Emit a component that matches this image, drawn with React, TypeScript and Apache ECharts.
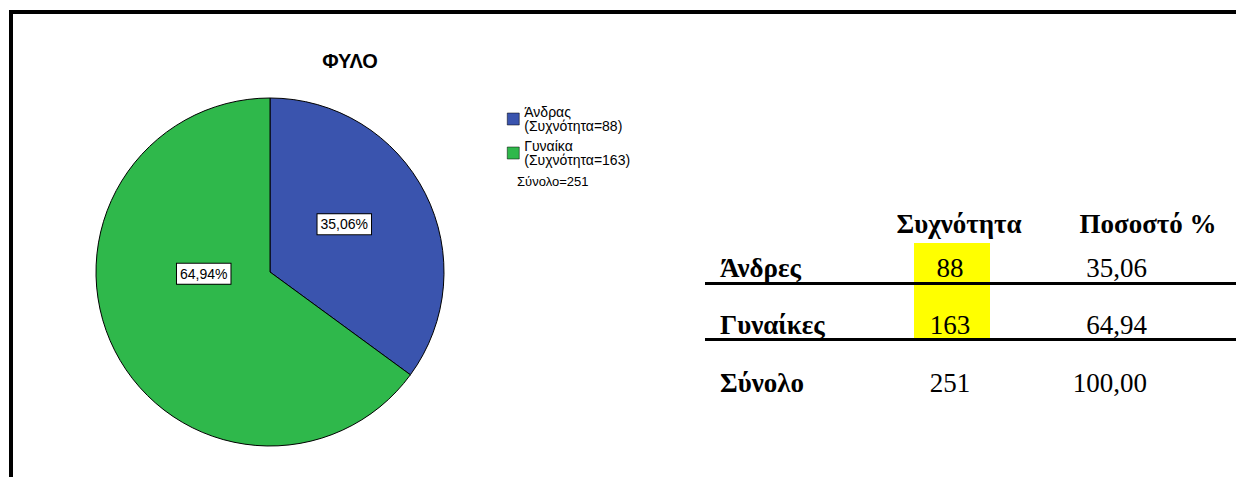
import React, { useEffect, useRef } from "react";
import * as echarts from "echarts";

const title = "ΦΥΛΟ";
const categories = ["Άνδρας", "Γυναίκα"];
const counts = [88, 163];
const colors = ["#3a54ae", "#2fb84b"];
const tableRows = ["Άνδρες", "Γυναίκες", "Σύνολο"];
const tableHeaders = ["Συχνότητα", "Ποσοστό %"];

const total = counts.reduce((a, b) => a + b, 0);
const pct = (v: number) => ((v / total) * 100).toFixed(2).replace(".", ",");

export default function App() {
  const ref = useRef<HTMLDivElement>(null);
  useEffect(() => {
    document.body.style.margin = "0";
    const chart = echarts.init(ref.current!, null, { renderer: "svg" });
    const serif = "'Liberation Serif', 'Times New Roman', serif";
    const sans = "'Liberation Sans', Arial, sans-serif";
    const rowY = [268, 325, 383];
    const freqX = 950;
    const pctRight = 1147;
    const tableValues = [...counts, total];
    const tablePcts = [...counts.map(pct), "100,00"];
    const graphics: any[] = [
      { type: "rect", shape: { x: 9, y: 10, width: 1227, height: 4 }, style: { fill: "#000" } },
      { type: "rect", shape: { x: 9, y: 10, width: 4, height: 467 }, style: { fill: "#000" } },
      { type: "rect", shape: { x: 914, y: 243, width: 76, height: 97 }, style: { fill: "#ffff00" }, z: 0 },
      { type: "rect", shape: { x: 705, y: 282, width: 531, height: 3 }, style: { fill: "#000" } },
      { type: "rect", shape: { x: 705, y: 338, width: 531, height: 3 }, style: { fill: "#000" } },
      {
        type: "text", x: 959, y: 224,
        style: { text: tableHeaders[0], font: `bold 27px ${serif}`, fill: "#000", align: "center", verticalAlign: "middle" },
      },
      {
        type: "text", x: 1148, y: 224,
        style: { text: tableHeaders[1], font: `bold 27px ${serif}`, fill: "#000", align: "center", verticalAlign: "middle" },
      },
      {
        type: "text", x: 517, y: 181,
        style: { text: `Σύνολο=${total}`, font: `13px ${sans}`, fill: "#000", align: "left", verticalAlign: "middle" },
      },
    ];
    tableRows.forEach((r, i) => {
      graphics.push({
        type: "text", x: 720, y: rowY[i], z: 5,
        style: { text: r, font: `bold 27px ${serif}`, fill: "#000", align: "left", verticalAlign: "middle" },
      });
      graphics.push({
        type: "text", x: freqX, y: rowY[i], z: 5,
        style: { text: String(tableValues[i]), font: `27px ${serif}`, fill: "#000", align: "center", verticalAlign: "middle" },
      });
      graphics.push({
        type: "text", x: pctRight, y: rowY[i], z: 5,
        style: { text: tablePcts[i], font: `27px ${serif}`, fill: "#000", align: "right", verticalAlign: "middle" },
      });
    });

    chart.setOption({
      animation: false,
      backgroundColor: "#fff",
      title: {
        text: title,
        left: 345,
        top: 46,
        textAlign: "center",
        textStyle: { fontFamily: sans, fontSize: 20, fontWeight: "bold", color: "#000" },
      },
      legend: {
        orient: "vertical",
        left: 502,
        top: 100,
        icon: "rect",
        itemWidth: 12,
        itemHeight: 12,
        itemGap: 6,
        itemStyle: { borderColor: "#000", borderWidth: 0.5 },
        textStyle: { fontFamily: sans, fontSize: 14, color: "#000", lineHeight: 14 },
        formatter: (name: string) => {
          const i = categories.indexOf(name);
          return `${name}\n(Συχνότητα=${counts[i]})`;
        },
        data: categories,
      },
      color: colors,
      series: [
        {
          type: "pie",
          center: [270, 272],
          radius: 174,
          startAngle: 90,
          clockwise: true,
          itemStyle: { borderColor: "#000", borderWidth: 1 },
          label: {
            position: "inside",
            formatter: (p: any) => `${pct(p.value)}%`,
            backgroundColor: "#fff",
            borderColor: "#000",
            borderWidth: 1,
            padding: [3, 3],
            fontFamily: sans,
            fontSize: 14,
            color: "#000",
          },
          labelLayout: (p: any) => (p.dataIndex === 1 ? { dx: 14, dy: -39 } : { dx: -6, dy: -7 }),
          emphasis: { disabled: true },
          data: categories.map((c, i) => ({ name: c, value: counts[i] })),
        },
      ],
      graphic: graphics,
    });
    return () => chart.dispose();
  }, []);
  return <div ref={ref} style={{ width: 1236, height: 477 }} />;
}
